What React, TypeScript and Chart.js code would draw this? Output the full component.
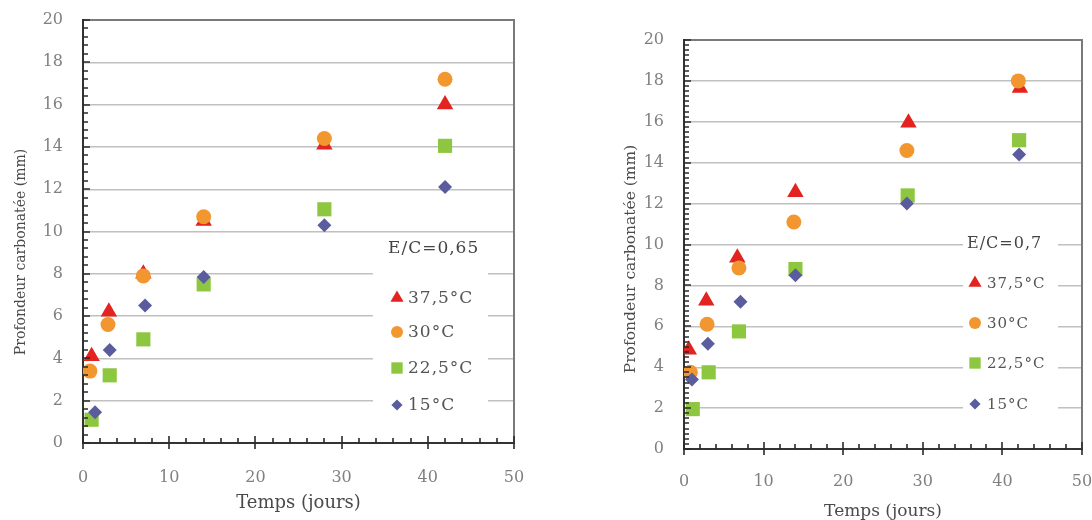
import { useEffect, useRef } from "react";
import { Chart, registerables } from "chart.js";
import { drawPoint } from "chart.js/helpers";

Chart.register(...registerables);

// Series shared by both panels
const seriesLabels = ["37,5°C", "30°C", "22,5°C", "15°C"];
const seriesColors = ["#e2231f", "#f29630", "#8dc63f", "#5b5c9e"];
const seriesShapes = ["triangle", "circle", "rect", "rectRot"];
const seriesRadii = [9.5, 7.5, 10, 7];
// diamonds on top, squares at the bottom
const seriesOrder = [2, 1, 3, 0];

// Axis ticks
const xTickValues = [0, 10, 20, 30, 40, 50];
const yTickValues = [0, 2, 4, 6, 8, 10, 12, 14, 16, 18, 20];

// E/C = 0,65 : time (days) and carbonated depth (mm)
const days065T375 = [1, 3, 7, 14, 28, 42];
const depth065T375 = [4.1, 6.2, 8.0, 10.5, 14.1, 16.0];
const days065T30 = [0.8, 2.9, 7, 14, 28, 42];
const depth065T30 = [3.4, 5.6, 7.9, 10.7, 14.4, 17.2];
const days065T225 = [1, 3.1, 7, 14, 28, 42];
const depth065T225 = [1.1, 3.2, 4.9, 7.5, 11.05, 14.05];
const days065T15 = [1.4, 3.1, 7.2, 14, 28, 42];
const depth065T15 = [1.45, 4.4, 6.5, 7.85, 10.3, 12.1];

// E/C = 0,7
const days07T375 = [0.6, 2.8, 6.7, 14, 28.2, 42.2];
const depth07T375 = [4.85, 7.25, 9.35, 12.55, 15.95, 17.65];
const days07T30 = [0.8, 2.9, 6.9, 13.8, 28, 42];
const depth07T30 = [3.75, 6.1, 8.85, 11.1, 14.6, 18.0];
const days07T225 = [1.1, 3.1, 6.9, 14, 28.1, 42.1];
const depth07T225 = [1.95, 3.75, 5.75, 8.8, 12.4, 15.1];
const days07T15 = [1, 3, 7.1, 14, 28, 42.1];
const depth07T15 = [3.4, 5.15, 7.2, 8.5, 12.0, 14.4];

const FONT = "'DejaVu Serif', 'Liberation Serif', serif";

type Panel = {
  ratio: string;
  days: number[][];
  depths: number[][];
  padTop: number;
  padRight: number;
  yAxisWidth: number;
  xAxisHeight: number;
  xTickPad: number;
  yMinor: number;
  yTitle: { x: number; y: number; size: number };
  xTitle: { dy: number; size: number };
  legend: {
    box: [number, number, number, number];
    titleX: number;
    titleY: number;
    titleSize: number;
    markerX: number;
    textX: number;
    rows: number[];
    textSize: number;
  };
};

const panel065: Panel = {
  ratio: "E/C=0,65",
  days: [days065T375, days065T30, days065T225, days065T15],
  depths: [depth065T375, depth065T30, depth065T225, depth065T15],
  padTop: 20,
  padRight: 32,
  yAxisWidth: 83,
  xAxisHeight: 77,
  xTickPad: 25,
  yMinor: 0.4,
  yTitle: { x: 21, y: 252, size: 14 },
  xTitle: { dy: 60, size: 18 },
  legend: {
    box: [373, 237, 488, 426],
    titleX: 388,
    titleY: 249,
    titleSize: 17,
    markerX: 397,
    textX: 408,
    rows: [298, 332, 368, 405],
    textSize: 17,
  },
};

const panel07: Panel = {
  ratio: "E/C=0,7",
  days: [days07T375, days07T30, days07T225, days07T15],
  depths: [depth07T375, depth07T30, depth07T225, depth07T15],
  padTop: 40,
  padRight: 9,
  yAxisWidth: 138,
  xAxisHeight: 71,
  xTickPad: 23,
  yMinor: 0.25,
  yTitle: { x: 85, y: 259, size: 15.5 },
  xTitle: { dy: 63, size: 17 },
  legend: {
    box: [417, 236, 512, 420],
    titleX: 421,
    titleY: 244,
    titleSize: 16,
    markerX: 429,
    textX: 441,
    rows: [283, 323, 363, 404],
    textSize: 15,
  },
};

function decorations(cfg: Panel) {
  return {
    id: "decorations",
    afterDraw(chart: any) {
      const { ctx, chartArea: a } = chart;
      const x = chart.scales.x;
      const y = chart.scales.y;
      ctx.save();

      // right-hand frame
      ctx.strokeStyle = "#7a7a7a";
      ctx.lineWidth = 2;
      ctx.beginPath();
      ctx.moveTo(a.right, a.top - 1);
      ctx.lineTo(a.right, a.bottom);
      ctx.stroke();

      // major and minor tick marks
      ctx.strokeStyle = "#2a2a2a";
      ctx.lineWidth = 1.6;
      ctx.beginPath();
      for (let k = 0; k <= 25; k++) {
        const v = k * 2;
        const px = Math.round(x.getPixelForValue(v));
        const major = v % 10 === 0;
        ctx.moveTo(px, a.bottom + (major ? 6 : 0));
        ctx.lineTo(px, a.bottom - (major ? 7 : 5));
      }
      const n = Math.round(20 / cfg.yMinor);
      for (let k = 0; k <= n; k++) {
        const v = k * cfg.yMinor;
        const py = Math.round(y.getPixelForValue(v));
        const major = Math.abs(v / 2 - Math.round(v / 2)) < 1e-6;
        ctx.moveTo(a.left, py);
        ctx.lineTo(a.left + (major ? 7 : 5), py);
      }
      ctx.stroke();

      // axis titles
      ctx.fillStyle = "#4a4a4a";
      ctx.textAlign = "center";
      ctx.textBaseline = "middle";
      ctx.font = `${cfg.xTitle.size}px ${FONT}`;
      ctx.fillText("Temps (jours)", (a.left + a.right) / 2, a.bottom + cfg.xTitle.dy);
      ctx.save();
      ctx.translate(cfg.yTitle.x, cfg.yTitle.y);
      ctx.rotate(-Math.PI / 2);
      ctx.font = `${cfg.yTitle.size}px ${FONT}`;
      ctx.fillText("Profondeur carbonatée (mm)", 0, 0);
      ctx.restore();

      // legend panel
      const L = cfg.legend;
      ctx.fillStyle = "#ffffff";
      ctx.fillRect(L.box[0], L.box[1], L.box[2] - L.box[0], L.box[3] - L.box[1]);
      (ctx as any).letterSpacing = "1px";
      ctx.textAlign = "left";
      ctx.fillStyle = "#444444";
      ctx.font = `${L.titleSize}px ${FONT}`;
      ctx.fillText(cfg.ratio, L.titleX, L.titleY);
      ctx.font = `${L.textSize}px ${FONT}`;
      chart.data.datasets.forEach((ds: any, i: number) => {
        const ry = L.rows[i];
        ctx.fillStyle = ds.backgroundColor;
        ctx.strokeStyle = ds.backgroundColor;
        drawPoint(ctx, { pointStyle: ds.pointStyle, radius: ds.pointRadius * 0.8, rotation: 0, borderWidth: 0 }, L.markerX, ry);
        ctx.fillStyle = "#555555";
        ctx.fillText(ds.label, L.textX, ry + 1);
      });
      (ctx as any).letterSpacing = "0px";
      ctx.restore();
    },
  };
}

function buildChart(canvas: HTMLCanvasElement, cfg: Panel) {
  const datasets = seriesLabels.map((label, i) => ({
    label,
    data: cfg.days[i].map((d, k) => ({ x: d, y: cfg.depths[i][k] })),
    pointStyle: seriesShapes[i],
    pointRadius: seriesRadii[i],
    backgroundColor: seriesColors[i],
    borderColor: seriesColors[i],
    pointBorderWidth: 0,
    showLine: false,
    order: seriesOrder[i],
  }));

  return new Chart(canvas, {
    type: "scatter",
    data: { datasets },
    options: {
      animation: false,
      responsive: false,
      devicePixelRatio: 1,
      layout: { padding: { top: cfg.padTop, right: cfg.padRight, left: 0, bottom: 0 } },
      plugins: { legend: { display: false }, tooltip: { enabled: false } },
      scales: {
        x: {
          type: "linear",
          min: 0,
          max: 50,
          afterBuildTicks: (s: any) => {
            s.ticks = xTickValues.map((value) => ({ value }));
          },
          ticks: {
            padding: cfg.xTickPad,
            color: "#808080",
            font: { family: FONT, size: 16 },
            maxRotation: 0,
          },
          grid: { display: false, drawTicks: false },
          border: { color: "#333333", width: 2 },
          afterFit: (s: any) => {
            s.height = cfg.xAxisHeight;
            s.paddingLeft = 0;
            s.paddingRight = 0;
          },
        },
        y: {
          min: 0,
          max: 20,
          afterBuildTicks: (s: any) => {
            s.ticks = yTickValues.map((value) => ({ value }));
          },
          ticks: {
            padding: 20,
            color: "#808080",
            font: { family: FONT, size: 16 },
          },
          grid: {
            drawTicks: false,
            color: (c: any) => (c.tick && c.tick.value === 20 ? "#7a7a7a" : "#c0c0c0"),
            lineWidth: (c: any) => (c.tick && c.tick.value === 20 ? 2 : 1.4),
          },
          border: { color: "#333333", width: 2 },
          afterFit: (s: any) => {
            s.width = cfg.yAxisWidth;
            s.paddingTop = 0;
            s.paddingBottom = 0;
          },
        },
      },
    },
    plugins: [decorations(cfg)],
  } as any);
}

export default function App() {
  const leftRef = useRef<HTMLCanvasElement>(null);
  const rightRef = useRef<HTMLCanvasElement>(null);

  useEffect(() => {
    const a = buildChart(leftRef.current!, panel065);
    const b = buildChart(rightRef.current!, panel07);
    return () => {
      a.destroy();
      b.destroy();
    };
  }, []);

  return (
    <div style={{ position: "absolute", left: 0, top: 0, width: 1092, height: 520, background: "#ffffff", overflow: "hidden" }}>
      <canvas ref={leftRef} width={546} height={520} style={{ position: "absolute", left: 0, top: 0, width: 546, height: 520 }} />
      <canvas ref={rightRef} width={546} height={520} style={{ position: "absolute", left: 546, top: 0, width: 546, height: 520 }} />
    </div>
  );
}
